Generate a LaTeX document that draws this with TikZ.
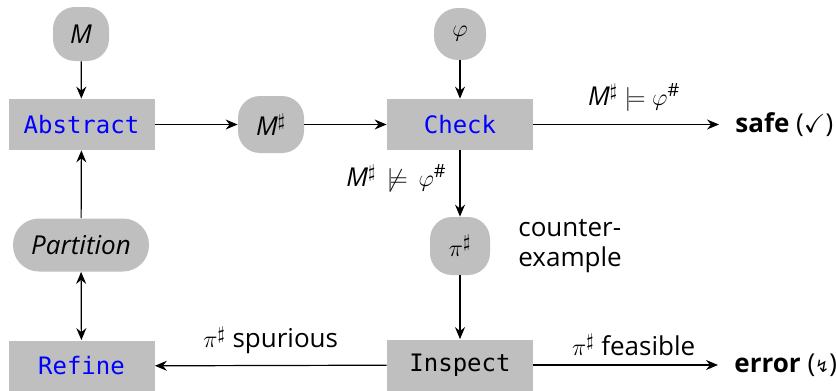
\documentclass[tikz,border=0pt]{standalone}
\usepackage{amssymb}
\usepackage{fontspec}
\setmainfont{Open Sans}
\setmonofont{DejaVu Sans Mono}
\newfontfamily\symfont{DejaVu Sans}
\usetikzlibrary{arrows.meta}
\begin{document}
\begin{tikzpicture}[x=0.5pt,y=-0.5pt,
  font=\fontsize{13}{15}\selectfont,
  proc/.style={fill=black!25, minimum width=73pt, minimum height=25.5pt, inner sep=0pt, font=\fontsize{12}{14}\ttfamily},
  data/.style={fill=black!25, rounded corners=11pt, minimum height=27pt, inner sep=2pt},
  arr/.style={-{Stealth[length=6pt,width=5pt,inset=2pt]}, line width=0.6pt},
  darr/.style={{Stealth[length=6pt,width=5pt,inset=2pt]}-{Stealth[length=6pt,width=5pt,inset=2pt]}, line width=0.6pt}]
\useasboundingbox (0,0) rectangle (836,391);
\node[data, minimum width=28pt] (m) at (81,34) {\itshape M};
\node[proc, text=blue] (abs) at (81.5,124.5) {Abstract};
\node[data, minimum width=33pt, minimum height=28.5pt] (ms) at (271,124.5) {\itshape M$^\sharp$};
\node[proc, text=blue] (chk) at (460,124.5) {Check};
\node[data, minimum width=26pt, minimum height=26pt, rounded corners=12pt] (phi) at (460,34) {$\varphi$};
\node[anchor=west, inner sep=0pt] (safe) at (735,124.5) {\textbf{safe} ($\checkmark$)};
\node[data, minimum width=30pt, minimum height=29pt] (pi) at (460,246) {$\pi^\sharp$};
\node[align=left, anchor=west, inner sep=0pt] (ce) at (518,246) {counter-\\example};
\node[data, minimum width=68pt, minimum height=26.5pt, rounded corners=13pt] (part) at (81,245) {\itshape Partition};
\node[proc, text=blue] (ref) at (81.5,366) {Refine};
\node[proc, text=black] (ins) at (460,365) {Inspect};
\node[anchor=west, inner sep=0pt] (err) at (734,365) {\textbf{error} ({\symfont\fontsize{8.5}{10}\selectfont ↯})};
\draw[arr] (m) -- (abs);
\draw[arr] (abs) -- (ms);
\draw[arr] (ms) -- (chk);
\draw[arr] (phi) -- (chk);
\draw[arr] (chk) -- node[above=3pt, xshift=4pt] {\itshape M$^\sharp\models\varphi^\#$} ([xshift=-8pt]safe.west);
\draw[arr] (chk) -- node[pos=0.42, left=3pt] {\itshape M$^\sharp\,\not\models\,\varphi^\#$} (pi);
\draw[arr] (pi) -- (ins);
\draw[arr] (ins) -- node[above=2pt] {$\pi^\sharp$ spurious} (ref);
\draw[arr] (ins) -- node[above=1pt, xshift=4pt] {$\pi^\sharp$ feasible} ([xshift=-8pt]err.west |- ins.east);
\draw[arr] (part) -- (abs);
\draw[darr] (part) -- (ref);
\end{tikzpicture}
\end{document}
